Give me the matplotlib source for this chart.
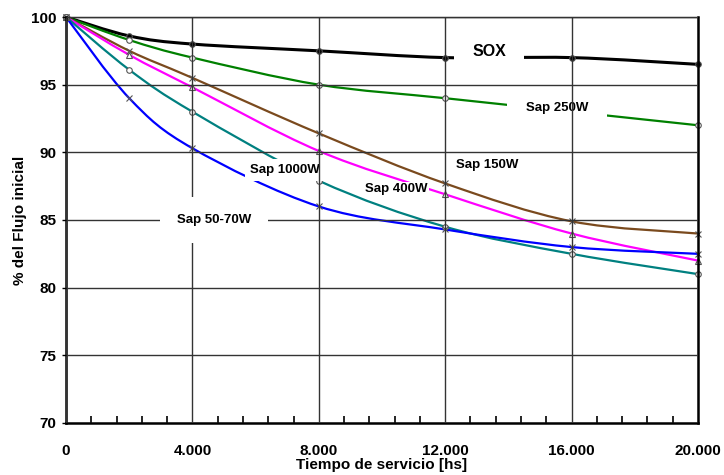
import matplotlib.pyplot as plt
from matplotlib.path import Path
from matplotlib.patches import PathPatch
from matplotlib.ticker import FuncFormatter, MultipleLocator

# horas de servicio y % del flujo inicial
hours = [0, 2000, 4000, 8000, 12000, 16000, 20000]
sox = [100, 98.6, 98.0, 97.5, 97.0, 97.0, 96.5]
sap_250 = [100, 98.3, 97.0, 95.0, 94.0, 93.0, 92.0]
sap_150 = [100, 97.5, 95.5, 91.4, 87.7, 84.9, 84.0]
sap_400 = [100, 97.2, 94.8, 90.1, 86.9, 84.0, 82.0]
sap_1000 = [100, 96.1, 93.0, 87.9, 84.5, 82.5, 81.0]
sap_50_70 = [100, 94.0, 90.3, 86.0, 84.3, 83.0, 82.5]

plt.rcParams['font.family'] = ['Liberation Sans', 'DejaVu Sans']
plt.rcParams['font.weight'] = 'bold'


def smooth_path(xs, ys):
    # linea suavizada tipo Excel (bezier cubica por los puntos)
    n = len(xs)
    verts = [(xs[0], ys[0])]
    codes = [Path.MOVETO]
    for i in range(n - 1):
        i0 = max(i - 1, 0)
        i3 = min(i + 2, n - 1)
        c1 = (xs[i] + (xs[i + 1] - xs[i0]) / 6, ys[i] + (ys[i + 1] - ys[i0]) / 6)
        c2 = (xs[i + 1] - (xs[i3] - xs[i]) / 6, ys[i + 1] - (ys[i3] - ys[i]) / 6)
        verts += [c1, c2, (xs[i + 1], ys[i + 1])]
        codes += [Path.CURVE4] * 3
    return Path(verts, codes)


fig = plt.figure(figsize=(7.24, 4.75), dpi=100)
ax = fig.add_axes([0.0912, 0.1095, 0.8729, 0.8547])

series = [
    (sox, 'black', 'o', 'black', 2.2),
    (sap_250, '#008000', 'o', 'white', 1.6),
    (sap_150, '#7a4a1e', 'x', 'none', 1.6),
    (sap_400, '#ff00ff', '^', 'white', 1.6),
    (sap_1000, '#008080', 'o', 'white', 1.6),
    (sap_50_70, '#0000ff', 'x', 'none', 1.6),
]
for vals, col, mk, mfc, lw in series:
    ax.add_patch(PathPatch(smooth_path(hours, vals), fc='none', ec=col, lw=lw,
                           zorder=2, clip_on=False))
    ax.plot(hours, vals, ls='none', marker=mk, ms=4, mfc=mfc,
            mec='#555555', mew=0.8, zorder=2.1, clip_on=False)

ax.set_xlim(0, 20000)
ax.set_ylim(70, 100)
ax.xaxis.set_major_locator(MultipleLocator(4000))
ax.xaxis.set_minor_locator(MultipleLocator(800))
ax.yaxis.set_major_locator(MultipleLocator(5))
ax.xaxis.set_major_formatter(FuncFormatter(lambda v, p: f'{int(v):,}'.replace(',', '.')))
ax.set_axisbelow(False)
ax.grid(True, which='major', color='#333333', lw=1.0, zorder=2.5)
ax.tick_params(axis='x', which='minor', direction='in', length=5, width=1.2, top=False)
ax.tick_params(axis='x', which='major', direction='in', length=0, pad=15, labelsize=11)
ax.tick_params(axis='y', which='major', direction='out', length=3, width=1, labelsize=11, pad=4)
for s in ['left', 'bottom', 'right']:
    ax.spines[s].set_linewidth(1.8)
ax.spines['top'].set_linewidth(1.0)

ax.set_xlabel('Tiempo de servicio [hs]', fontsize=11, fontweight='bold', labelpad=0)
ax.set_ylabel('% del Flujo inicial', fontsize=11, fontweight='bold', labelpad=3)

labels = [
    ('SOX', 13386, 97.45, 11.5, 1.15, 2.2),
    ('Sap 250W', 15540, 93.25, 9.5, 1.4, 2.2),
    ('Sap 150W', 13322, 89.1, 9.5, 0.2, 2.2),
    ('Sap 400W', 10443, 87.3, 9.5, 0.1, 2.2),
    ('Sap 1000W', 6930, 88.7, 9.5, 0.4, 2.2),
    ('Sap 50-70W', 4684, 85.0, 9.5, 1.3, 3),
]
for txt, x, y, fs, pad, z in labels:
    ax.text(x, y, txt, fontsize=fs, fontweight='bold', ha='center', va='center',
            zorder=z, bbox=dict(boxstyle=f'square,pad={pad}', fc='white', ec='none'))

fig.savefig('out.png', dpi=100)
